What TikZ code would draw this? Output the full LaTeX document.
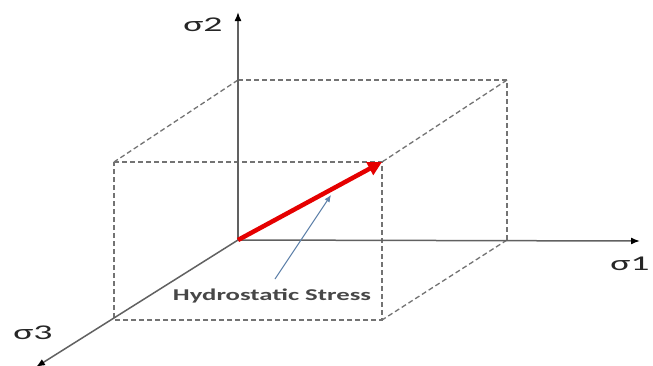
\documentclass[tikz,border=0pt]{standalone}
\usepackage{fontspec}
\setmainfont{Carlito}
\usetikzlibrary{arrows.meta}
\definecolor{steel}{RGB}{95,130,170}
\begin{document}
\begin{tikzpicture}[x=1pt,y=-1pt,
  axis/.style={draw=black!62,line width=1.5pt,-{Latex[length=9pt,width=7pt,black]}},
  edge/.style={draw=black!55,line width=1.3pt,dash pattern=on 5pt off 3pt},
  lbl/.style={font=\fontsize{21}{21}\selectfont,text=black!85,inner sep=0pt,xscale=1.8,transform shape},
  note/.style={font=\bfseries\fontsize{16.5}{17}\selectfont,text=black!72,inner sep=0pt,xscale=1.62,transform shape}]
\useasboundingbox (0,0) rectangle (653,365);
\fill[white] (0,0) rectangle (653,365);
% points
\coordinate (O) at (238,240);
\coordinate (Y) at (238,12);
\coordinate (X) at (640,241);
\coordinate (Z) at (36,367);
\coordinate (BTL) at (238,80);
\coordinate (BTR) at (507,80);
\coordinate (BBR) at (507,240);
\coordinate (FTL) at (114,162);
\coordinate (FTR) at (382,162);
\coordinate (FBL) at (114,320);
\coordinate (FBR) at (382,320);
% dashed box
\draw[edge] (FTL) -- (FTR) -- (FBR) -- (FBL) -- cycle;
\draw[edge] (BTL) -- (BTR) -- (BBR);
\draw[edge] (BTL) -- (FTL);
\draw[edge] (BTR) -- (FTR);
\draw[edge] (BBR) -- (FBR);
% axes
\draw[axis] (O) -- (Y);
\draw[axis] (O) -- (X);
\draw[axis] (O) -- (Z);
% labels
\node[lbl] (s2) at (203,25) {σ2};
\node[lbl] (s1) at (630,264) {σ1};
\node[lbl] (s3) at (33,333) {σ3};
% hydrostatic vector
\draw[draw=red!90!black,line width=4.5pt,-{Triangle[length=14pt,width=14pt]}] (O) -- (FTR);
% annotation
\node[note] (hs) at (272,296) {Hydrostatic Stress};
\coordinate (hsA) at (275,279);
\coordinate (hsB) at (331,195);
\draw[draw=steel,line width=1pt,-{Latex[length=7pt,width=6pt]}] (hsA) -- (hsB);
\end{tikzpicture}
\end{document}
